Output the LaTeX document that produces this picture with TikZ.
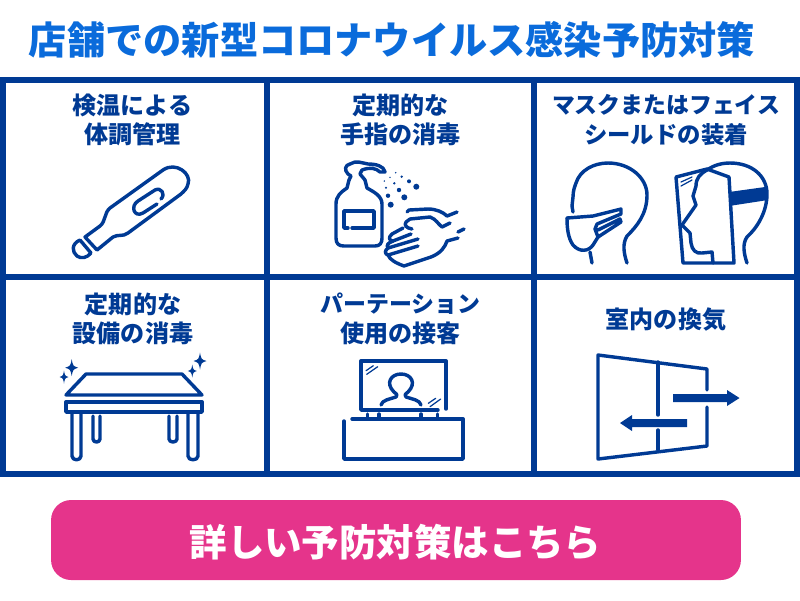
\documentclass[tikz,border=0pt]{standalone}
\usepackage{fontspec}
\newfontfamily\jpfont{Noto Sans CJK JP}
\usetikzlibrary{calc}

\definecolor{framecol}{HTML}{003A94}
\definecolor{titlecol}{HTML}{0A6BDB}
\definecolor{btncol}{HTML}{E5348B}

\tikzset{
	icon/.style={draw=framecol, line width=1.95pt, line join=round, line cap=round},
	thinicon/.style={draw=framecol, line width=0.7pt, line cap=round},
	grid/.style={draw=framecol, line width=3.4pt},
	label/.style={text=framecol, font=\jpfont\bfseries\fontsize{13.7}{16.8}\selectfont, align=center, anchor=center},
}

\newcommand{\sparkle}[4]{\fill[framecol] (#1-#3,#2) .. controls (#1-0.2*#3,#2-0.2*#4) .. (#1,#2-#4) .. controls (#1+0.2*#3,#2-0.2*#4) .. (#1+#3,#2) .. controls (#1+0.2*#3,#2+0.2*#4) .. (#1,#2+#4) .. controls (#1-0.2*#3,#2+0.2*#4) .. cycle;}
\newcommand{\kanasize}[1]{\fontsize{#1}{16.8}\selectfont}

\begin{document}
\begin{tikzpicture}[x=0.02cm, y=-0.02cm]

	\useasboundingbox (0,0) rectangle (800,600);

	\node[text=titlecol, font=\jpfont\bfseries\fontsize{21.75}{26}\selectfont, anchor=center] (title) at (392,40) {店舗での新型コロナウイルス感染予防対策};

	\draw[grid] (3,80) rectangle (797,474);
	\draw[grid] (267,80) -- (267,474);
	\draw[grid] (534,80) -- (534,474);
	\draw[grid] (3,277) -- (797,277);

	\node[label] (lblTemp) at (132.5,120) {検温による\\体調管理};
	\node[label] (lblHand) at (400.5,120) {定期的な\\手指の消毒};
	\node[label] (lblMask) at (666,120) {\kanasize{13}マスクまたはフェイス\\\kanasize{13.3}シールドの装着};
	\node[label] (lblTable) at (133,319) {定期的な\\設備の消毒};
	\node[label] (lblPart) at (400.5,319) {\kanasize{13.05}パーテーション\\\kanasize{13.7}使用の接客};
	\node[label] (lblAir) at (666,320) {室内の換気};

	% thermometer
	\draw[icon] (110,208) -- (163,170) .. controls (176,161) and (192,174) .. (188,184) .. controls (187,189) and (184,191) .. (181,194) -- (128,233) .. controls (123,237) and (118,234) .. (113,237) -- (97,250) -- (85,237) -- (100,226) .. controls (106,221) and (104,213) .. (110,208);
	\draw[icon] (80,240) -- (91,253) .. controls (87,258) and (81,259) .. (77,256) .. controls (72,252) and (71,244) .. (80,240);
	\draw[icon] (157,204) -- (143,213) .. controls (134,218) and (130,206) .. (138,201) -- (155,190) .. controls (161,187) and (166,194) .. (161,199);

	% bottle and spray
	\draw[icon] (349,180) -- (347,188) .. controls (341,192) and (336,196) .. (336,204) -- (336,238) .. controls (336,244) and (339,246) .. (344,246) -- (375,246) .. controls (380,246) and (382,243) .. (382,238) -- (382,204) .. controls (382,196) and (374,192) .. (367,188) -- (365,180);
	\draw[icon] (349,180) -- (351,176) -- (348,174) .. controls (344,170) and (345,165) .. (350,164) .. controls (356,160) and (362,163) .. (368,164) .. controls (376,164) and (384,166) .. (385,172) -- (380,172) .. controls (376,168) and (370,167) .. (362,170) -- (360,174) -- (365,180);
	\draw[icon] (348,228) -- (344,228) -- (344,211) -- (374,211) -- (374,228) -- (352,228);
	\foreach \dotx/\doty/\dotr in {395.7/172.7/0.8, 401.7/176.7/1.3, 409/181.3/2, 416.3/186.7/3, 390/177.3/0.8, 394.3/183.3/1.3, 399/190/2.2, 404.3/197.3/3, 384.3/181/0.8, 386/187.7/1.2, 388/195.7/2.2, 390.7/204.7/3}
		\fill[framecol] (\dotx,\doty) circle[radius=\dotr*0.02cm];

	% hands
	\draw[icon] (407,212) -- (409,210) -- (428,209) .. controls (436,209) and (443,212) .. (447,216) -- (457,212);
	\draw[icon] (406,222) -- (410,219) -- (430,217) .. controls (436,219) and (438,224) .. (442,227) -- (450,223);
	\draw[icon] (458,232) -- (464,229);
	\draw[icon] (406,222) .. controls (404,225) and (406,228) .. (412,229);
	\draw[icon] (403,228) -- (392,234) .. controls (388,237) and (389,241) .. (393,241) -- (411,234);
	\draw[icon] (393,241) .. controls (388,243) and (386,245) .. (388,248) -- (418,239);
	\draw[icon] (388,248) .. controls (384,251) and (385,254) .. (388,255) -- (418,246);
	\draw[icon] (388,255) .. controls (390,260) and (396,263) .. (404,266) -- (431,257) .. controls (441,253) and (445,247) .. (447,241) -- (458,238);

	% head with mask
	\draw[icon] (573,212) -- (572,206) -- (573,197) .. controls (573,190) and (575,186) .. (576,183) .. controls (580,170) and (594,163) .. (608,163) .. controls (630,163) and (647,178) .. (647,195) .. controls (647,214) and (637,226) .. (627,236) .. controls (622,244) and (624,254) .. (627,263);
	\draw[icon] (567,218) -- (593,216) -- (621,209) -- (621,214) -- (597,224) -- (595,229) -- (598,237) -- (621,222) -- (620,219) -- (598,230);
	\draw[icon] (567,218) .. controls (567,228) and (568,238) .. (573,245) .. controls (580,253) and (589,251) .. (593,245) -- (598,237);
	\draw[icon] (590,252) -- (592,263);

	% head with shield
	\draw[icon] (707,170) .. controls (714,165) and (722,163) .. (730,163) .. controls (752,163) and (767,176) .. (767,194) .. controls (767,212) and (757,228) .. (747,237) .. controls (742,244) and (744,254) .. (747,263);
	\draw[icon] (707,170) .. controls (700,174) and (696,178) .. (696,186) -- (693,196) -- (696,205) -- (682,225) -- (690,233) -- (691,243) .. controls (692,250) and (696,254) .. (702,253) -- (712,252) -- (713,263);
	\draw[icon] (676,177) -- (707,169) -- (729,177) -- (734,263) -- (683,263) -- (676,177);
	\fill[framecol] (729,192) -- (765,187) -- (768,200) -- (729,206) -- cycle;
	\draw[thinicon] (681,182) -- (692,177);
	\draw[thinicon] (681,186) -- (692,180);

	% table
	\draw[icon] (86,374) -- (182,374) -- (202,395) -- (66,395) -- cycle;
	\draw[icon] (66,402) rectangle (202,412);
	\draw[icon] (72,412) -- (72,456) .. controls (72,461) and (81,461) .. (81,456) -- (81,412);
	\draw[icon] (188,412) -- (188,456) .. controls (188,461) and (198,461) .. (198,456) -- (198,412);
	\draw[icon] (93,416) -- (93,439) .. controls (93,443) and (100,443) .. (100,439) -- (100,416);
	\draw[icon] (169,416) -- (169,439) .. controls (169,443) and (177,443) .. (177,439) -- (177,416);
	\sparkle{71.7}{367.7}{6.5}{8.5}
	\sparkle{64}{377}{4.5}{6.5}
	\sparkle{200}{361}{6.5}{8.5}
	\sparkle{192.3}{371}{4.5}{6.5}

	% partition
	\draw[icon] (438,410) -- (361,410) -- (361,361) -- (446,361) -- (446,409);
	\draw[icon] (381,405) .. controls (382,400) and (390,399) .. (396,397) .. controls (398,396) and (397,394) .. (394,392) .. controls (385,383) and (391,374) .. (401,374) .. controls (411,374) and (417,383) .. (408,392) .. controls (405,394) and (404,396) .. (406,397) .. controls (412,399) and (420,400) .. (421,405);
	\foreach \standx in {367.7,379,421,437.7}
		\draw[icon] (\standx,414) -- (\standx,419);
	\draw[icon] (352,419) -- (463,419) -- (463,459) -- (344,459) -- (344,421);
	\draw[thinicon] (366,370.7) -- (373.3,365.7);
	\draw[thinicon] (366.7,374.3) -- (377.7,366.7);
	\draw[thinicon] (428.3,403.3) -- (435.7,398.3);
	\draw[thinicon] (430,406.7) -- (440.7,399);

	% window
	\draw[icon] (707,390) -- (707,369) -- (598,355) -- (598,459) -- (707,446) -- (707,407);
	\draw[icon] (658,362) -- (658,415);
	\draw[icon] (658,430) -- (658,450);
	\fill[framecol] (673,394) -- (727,394) -- (727,390) -- (739.5,398) -- (727,406) -- (727,402) -- (673,402) -- cycle;
	\fill[framecol] (687,419) -- (632,419) -- (632,415) -- (620,423) -- (632,431) -- (632,427) -- (687,427) -- cycle;

	\node[fill=btncol, rounded corners=0.4cm, minimum width=13.8cm, minimum height=1.6cm, inner sep=0pt, anchor=center] (btnBox) at (396,540) {};
	\node[text=white, font=\jpfont\bfseries\fontsize{21.3}{26}\selectfont, anchor=center] (btnText) at (395.5,542) {詳しい予防対策はこちら};

\end{tikzpicture}
\end{document}
